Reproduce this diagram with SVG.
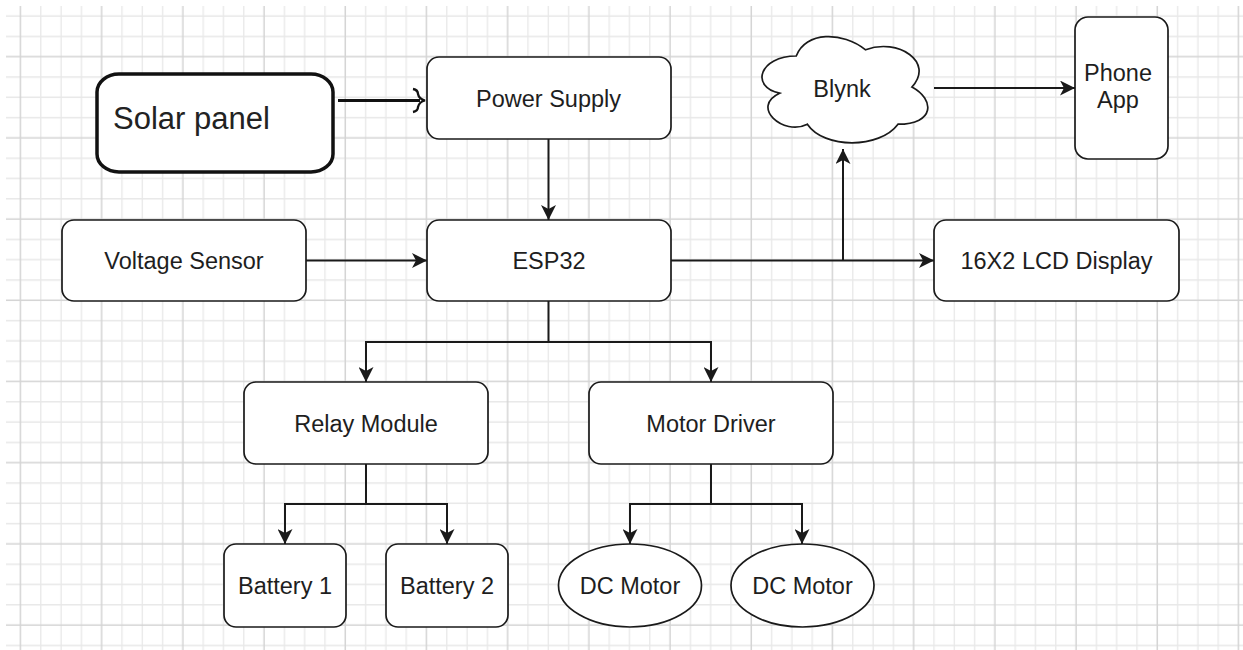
<svg xmlns="http://www.w3.org/2000/svg" width="1243" height="650" viewBox="0 0 1243 650">
<style>
.node{fill:#ffffff;stroke:#1a1a1a;stroke-width:1.7}
.lbl{font-family:"Liberation Sans",Arial,Helvetica,sans-serif;font-size:23.5px;fill:#1e1e1e;text-anchor:middle}
.edge{fill:none;stroke:#1a1a1a;stroke-width:2}
</style>
<defs>
<pattern id="grid" patternUnits="userSpaceOnUse" x="10.35" y="46.55" width="81.2" height="81.2">
<path d="M30.45,0V81.2M50.75,0V81.2M71.05,0V81.2M0,30.45H81.2M0,50.75H81.2M0,71.05H81.2" stroke="#e8e8e8" stroke-width="1.3" fill="none"/>
<path d="M10.15,0V81.2M0,10.15H81.2" stroke="#d4d4d4" stroke-width="1.5" fill="none"/>
</pattern>
<marker id="arr" markerUnits="userSpaceOnUse" markerWidth="16" markerHeight="15" refX="15" refY="7.5" orient="auto" viewBox="0 0 16 15">
<path d="M15,7.5 L0,0 L4,7.5 L0,15 Z" fill="#1a1a1a"/>
</marker>
</defs>
<rect x="0" y="0" width="1243" height="650" fill="#ffffff"/>
<rect x="6" y="6" width="1237" height="644" fill="url(#grid)"/>

<g id="connectors">
<line x1="338" y1="100.5" x2="420" y2="100.5" stroke="#111" stroke-width="3"/>
<path d="M413,89 Q418,90 418,94 Q419,99 425,100.5 Q419,102 418,107 Q418,111 413,112" fill="none" stroke="#111" stroke-width="2.3"/>
<line class="edge" x1="548.5" y1="139" x2="548.5" y2="220" marker-end="url(#arr)"/>
<line class="edge" x1="306" y1="260.5" x2="427" y2="260.5" marker-end="url(#arr)"/>
<line class="edge" x1="671" y1="260.5" x2="934" y2="260.5" marker-end="url(#arr)"/>
<line class="edge" x1="843" y1="260.5" x2="843" y2="149" marker-end="url(#arr)"/>
<line class="edge" x1="934" y1="88" x2="1075" y2="88" marker-end="url(#arr)"/>
<path class="edge" d="M548.5,301 V342 H366 V382" marker-end="url(#arr)"/>
<path class="edge" d="M548.5,342 H711 V382" marker-end="url(#arr)"/>
<path class="edge" d="M366,464 V504 H285 V544" marker-end="url(#arr)"/>
<path class="edge" d="M366,504 H447 V544" marker-end="url(#arr)"/>
<path class="edge" d="M711,464 V504 H630 V544" marker-end="url(#arr)"/>
<path class="edge" d="M711,504 H802 V544" marker-end="url(#arr)"/>
</g>

<g id="solar-panel">
<rect x="97" y="74" width="236" height="98" rx="22" ry="18" fill="#ffffff" stroke="#111" stroke-width="3.5"/>
<text x="113" y="129" font-family="'Liberation Sans',Arial,sans-serif" font-size="31" fill="#222">Solar panel</text>
</g>
<g id="power-supply">
<rect class="node" x="427" y="57" width="244" height="82" rx="12"/>
<text class="lbl" x="548.5" y="106.5">Power Supply</text>
</g>
<g id="blynk">
<path class="node" d="M796.25,56 C759.25,56 750,87 779.6,93.2 C750,106.8 783.3,136.6 807.35,124.2 C824,149 879.5,149 898,124.2 C935,124.2 935,99.4 911.9,87 C935,62.2 898,37.4 865.6,49.8 C842.5,31.2 805.5,31.2 796.25,56 Z"/>
<text class="lbl" x="842" y="96.5">Blynk</text>
</g>
<g id="phone-app">
<rect class="node" x="1075" y="17" width="93" height="142" rx="13"/>
<text class="lbl" x="1118" y="81">Phone</text>
<text class="lbl" x="1118" y="108">App</text>
</g>
<g id="voltage-sensor">
<rect class="node" x="62" y="220" width="244" height="81" rx="12"/>
<text class="lbl" x="184" y="269">Voltage Sensor</text>
</g>
<g id="esp32">
<rect class="node" x="427" y="220" width="244" height="81" rx="12"/>
<text class="lbl" x="549" y="269">ESP32</text>
</g>
<g id="lcd-display">
<rect class="node" x="934" y="220" width="245" height="81" rx="12"/>
<text class="lbl" x="1056.5" y="269">16X2 LCD Display</text>
</g>
<g id="relay-module">
<rect class="node" x="244" y="382" width="244" height="82" rx="12"/>
<text class="lbl" x="366" y="431.5">Relay Module</text>
</g>
<g id="motor-driver">
<rect class="node" x="589" y="382" width="244" height="82" rx="12"/>
<text class="lbl" x="711" y="431.5">Motor Driver</text>
</g>
<g id="battery-1">
<rect class="node" x="224" y="544" width="122" height="83" rx="12"/>
<text class="lbl" x="285" y="594">Battery 1</text>
</g>
<g id="battery-2">
<rect class="node" x="386" y="544" width="122" height="83" rx="12"/>
<text class="lbl" x="447" y="594">Battery 2</text>
</g>
<g id="dc-motor-1">
<ellipse class="node" cx="630" cy="585.5" rx="71.5" ry="41.5"/>
<text class="lbl" x="630" y="594">DC Motor</text>
</g>
<g id="dc-motor-2">
<ellipse class="node" cx="802.5" cy="585.5" rx="71.5" ry="41.5"/>
<text class="lbl" x="802.5" y="594">DC Motor</text>
</g>
</svg>
